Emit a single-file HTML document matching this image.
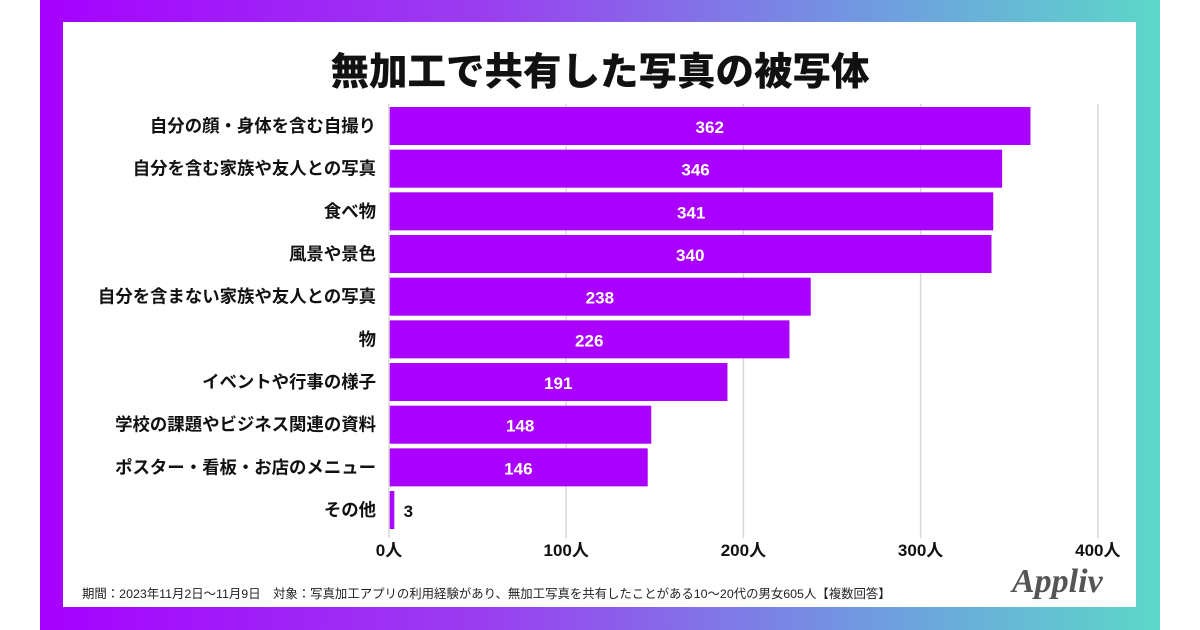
<!DOCTYPE html>
<html><head><meta charset="utf-8"><style>
body{margin:0;width:1200px;height:630px;background:#fff;position:relative;overflow:hidden;font-family:"Liberation Sans","Noto Sans CJK JP",sans-serif}
#frame{position:absolute;left:40px;top:0;width:1120px;height:630px;background:linear-gradient(90deg,#a600ff 0%,#9a3ff0 40%,#6f9de0 75%,#5cd8c8 100%)}
#card{position:absolute;left:63px;top:22px;width:1073px;height:585px;background:#fff}
#title{position:absolute;left:0;width:1200px;top:41px;text-align:center;font-size:38.5px;font-weight:900;color:#111}
#foot{position:absolute;left:82px;top:584px;font-size:12.4px;color:#222}
#logo{position:absolute;left:1012px;top:563px;font-family:"Liberation Serif",serif;font-style:italic;font-weight:bold;font-size:34px;color:#555}
</style></head><body>
<div id="frame"></div>
<div id="card"></div>
<div id="title">無加工で共有した写真の被写体</div>
<svg id="chart" width="1200" height="630" style="position:absolute;left:0;top:0"></svg>
<div id="foot">期間：2023年11月2日〜11月9日　対象：写真加工アプリの利用経験があり、無加工写真を共有したことがある10〜20代の男女605人【複数回答】</div>
<div id="logo">Appliv</div>
<script>
const categories=["自分の顔・身体を含む自撮り","自分を含む家族や友人との写真","食べ物","風景や景色","自分を含まない家族や友人との写真","物","イベントや行事の様子","学校の課題やビジネス関連の資料","ポスター・看板・お店のメニュー","その他"];
const values=[362,346,341,340,238,226,191,148,146,3];
const ticks=[0,100,200,300,400];
const tickLabels=["0人","100人","200人","300人","400人"];
const NS="http://www.w3.org/2000/svg";
const svg=document.getElementById('chart');
const x=v=>389+v*1.772;
const y=i=>126+i*42.67;
function mk(t,a){const e=document.createElementNS(NS,t);for(const k in a)e.setAttribute(k,a[k]);svg.appendChild(e);return e;}
ticks.forEach((t,i)=>{
 if(i>0){const g=mk('line',{x1:x(t),x2:x(t),y1:104,y2:538,stroke:'#d8d8d8','stroke-width':1.5});
 
 }
 const l=mk('text',{x:x(t),y:556,'text-anchor':'middle','font-size':17,'font-weight':'bold',fill:'#111'});
 l.textContent=tickLabels[i];
 
 
});
values.forEach((v,i)=>{
 const r=mk('rect',{x:389,y:y(i)-19,width:x(v)-389,height:38,fill:'#aa00ff'});
 
 
 const c=mk('text',{x:376,y:y(i)+6,'text-anchor':'end','font-size':17.4,'font-weight':'bold',fill:'#111'});
 c.textContent=categories[i];
 
 
 const inside=v>50;
 const t=mk('text',{x:inside?(389+x(v))/2:x(v)+14,y:y(i)+7,'text-anchor':'middle','font-size':17,'font-weight':'bold',fill:inside?'#fff':'#111'});
 t.textContent=v;
 
 
});
const ax=mk('line',{x1:389,x2:389,y1:104,y2:538,stroke:'#d8d8d8','stroke-width':1.5});


</script>
</body></html>
